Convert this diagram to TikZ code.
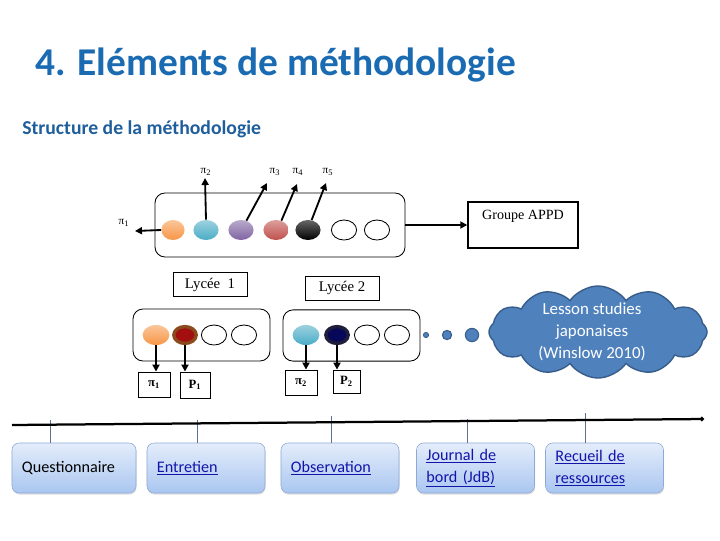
\documentclass[tikz,border=0pt]{standalone}
\usepackage{fontspec}
\setmainfont{Carlito}
\newfontfamily\tnr{Liberation Serif}
\usepackage{xcolor}
\definecolor{titlecolor}{HTML}{1A6BB2}
\definecolor{subcolor}{HTML}{1F5E9C}
\definecolor{linkcolor}{HTML}{1414AA}
\definecolor{cloudfill}{HTML}{4F81BD}
\definecolor{clouddraw}{HTML}{385D8A}
\definecolor{boxtop}{HTML}{E4EDFB}
\definecolor{boxbottom}{HTML}{A9C6F0}
\definecolor{boxdraw}{HTML}{8EA9D6}
\definecolor{tickcolor}{HTML}{5A7393}
\definecolor{ballorange}{HTML}{F79646}
\definecolor{ballblue}{HTML}{4BACC6}
\definecolor{ballpurple}{HTML}{8064A2}
\definecolor{ballred}{HTML}{C0504D}
\definecolor{ringbrown}{HTML}{8A4A1E}
\definecolor{ringred}{HTML}{A30F0F}
\definecolor{ringnavy}{HTML}{1E1E3A}
\definecolor{innernavy}{HTML}{08085A}
\usepackage{tikz}
\usetikzlibrary{arrows.meta, shapes.geometric, shapes.symbols, shadows, positioning}

\newcommand{\lien}[1]{\textcolor{linkcolor}{\underline{#1}}}

\tikzset{
  ball/.style={ellipse, inner sep=0pt, minimum width=0.63cm, minimum height=0.5cm},
  blanc/.style={ball, draw=black, fill=white, line width=0.6pt},
  conteneur/.style={draw, rounded corners=0.25cm, line width=0.6pt},
  fleche/.style={-{Triangle[length=5pt,width=5pt]}, line width=1.3pt},
  pilabel/.style={font=\tnr\fontsize{8}{9}\selectfont, inner sep=0pt},
  lbox/.style={draw, line width=0.6pt, inner sep=0pt, font=\tnr\fontsize{10.5}{12}\selectfont},
  pbox/.style={draw, line width=0.6pt, inner sep=0pt, font=\tnr\bfseries\fontsize{9}{10}\selectfont},
  etape/.style={rounded corners=0.18cm, draw=boxdraw, top color=boxtop, bottom color=boxbottom,
    minimum height=1.25cm, inner xsep=0.25cm, text width=2.45cm, align=left,
    font=\fontsize{11.5}{15.6}\selectfont, drop shadow={opacity=0.25, shadow xshift=0.4pt, shadow yshift=-1.2pt}},
  tick/.style={draw=tickcolor, line width=0.6pt}
}

\begin{document}
\begin{tikzpicture}[x=0.025cm, y=-0.025cm]
  \useasboundingbox (0,0) rectangle (720,540);
  % titres
  \node[anchor=base west, inner sep=0pt, text=titlecolor, font=\fontsize{28}{34}\selectfont\bfseries] (titre) at (35,75) {4. Eléments de méthodologie};
  \node[anchor=base west, inner sep=0pt, text=subcolor, font=\fontsize{14}{17}\selectfont\bfseries] (soustitre) at (22,134) {Structure de la méthodologie};

  % groupe
  \node[conteneur, minimum width=6.25cm, minimum height=1.6cm] (groupe) at (280,225) {};
  \node[ball, minimum width=0.58cm, top color=ballorange!55!white, bottom color=ballorange] (g1) at (173,230) {};
  \node[ball, top color=ballblue!55!white, bottom color=ballblue] (g2) at (206,230) {};
  \node[ball, top color=ballpurple!55!white, bottom color=ballpurple] (g3) at (241,230) {};
  \node[ball, top color=ballred!55!white, bottom color=ballred] (g4) at (276,230) {};
  \node[ball, top color=black!60, bottom color=black] (g5) at (308,230) {};
  \node[blanc] (g6) at (344,230) {};
  \node[blanc] (g7) at (377,230) {};
  \coordinate (t1) at (135,231);
  \coordinate (t2) at (205,178);
  \coordinate (t3) at (267,183);
  \coordinate (t4) at (297,184);
  \coordinate (t5) at (326,183);
  \draw[fleche] (g1.west) -- (t1);
  \draw[fleche] (g2.north) -- (t2);
  \draw[fleche] (g3.60) -- (t3);
  \draw[fleche] (g4.60) -- (t4);
  \draw[fleche] (g5.70) -- (t5);
  \node[pilabel] (pi1) at (124,223) {π\textsubscript{1}};
  \node[pilabel] (pi2) at (206,172) {π\textsubscript{2}};
  \node[pilabel] (pi3) at (275,172) {π\textsubscript{3}};
  \node[pilabel] (pi4) at (298,172) {π\textsubscript{4}};
  \node[pilabel] (pi5) at (328,172) {π\textsubscript{5}};
  \node[draw, line width=1pt, minimum width=2.75cm, minimum height=1.15cm,
    label={[font=\tnr\fontsize{10}{12}\selectfont, below=3pt]north:Groupe APPD}] (appd) at (523,225) {};
  \draw[fleche] (groupe.east) -- (appd.west);

  % lycees
  \node[lbox, minimum width=1.85cm, minimum height=0.62cm] (lycee1) at (210,284.5) {Lycée\ \ 1};
  \node[lbox, minimum width=1.85cm, minimum height=0.6cm] (lycee2) at (342,288) {Lycée 2};
  \node[conteneur, minimum width=3.425cm, minimum height=1.3cm] (cont1) at (201.5,335) {};
  \node[conteneur, minimum width=3.425cm, minimum height=1.28cm] (cont2) at (351.5,335.5) {};
  \node[ball, minimum width=0.67cm, top color=ballorange!55!white, bottom color=ballorange] (a1) at (156,335) {};
  \node[ball, minimum width=0.56cm, minimum height=0.42cm, fill=ringred, draw=ringbrown, line width=2.4pt] (a2) at (185,335) {};
  \node[blanc] (a3) at (214,335) {};
  \node[blanc] (a4) at (244,335) {};
  \node[ball, minimum width=0.67cm, top color=ballblue!55!white, bottom color=ballblue] (b1) at (306,335) {};
  \node[ball, minimum width=0.56cm, minimum height=0.42cm, fill=innernavy, draw=ringnavy, line width=2.4pt] (b2) at (337,335) {};
  \node[blanc] (b3) at (367,335) {};
  \node[blanc] (b4) at (397,335) {};
  \node[pbox, minimum width=0.8cm, minimum height=0.625cm] (pi1b) at (154,384.5) {π\textsubscript{1}};
  \node[pbox, minimum width=0.75cm, minimum height=0.65cm] (p1b) at (195,385) {P\textsubscript{1}};
  \node[pbox, minimum width=0.8cm, minimum height=0.625cm] (pi2b) at (301,382.5) {π\textsubscript{2}};
  \node[pbox, minimum width=0.675cm, minimum height=0.575cm] (p2b) at (346.5,381.5) {P\textsubscript{2}};
  \draw[fleche] (a1.south) -- (a1.south |- pi1b.north);
  \draw[fleche] (a2.south) -- (a2.south |- p1b.north);
  \draw[fleche] (b1.south) -- (b1.south |- pi2b.north);
  \draw[fleche] (b2.south) -- (b2.south |- p2b.north);

  % nuage
  \node[circle, inner sep=0pt, minimum size=0.13cm, fill=cloudfill, draw=clouddraw, line width=0.6pt] (d1) at (426,335) {};
  \node[circle, inner sep=0pt, minimum size=0.23cm, fill=cloudfill, draw=clouddraw, line width=0.8pt] (d2) at (447,335) {};
  \node[circle, inner sep=0pt, minimum size=0.33cm, fill=cloudfill, draw=clouddraw, line width=0.8pt] (d3) at (472,335) {};
  \node[cloud, cloud puffs=12, cloud puff arc=110, cloud ignores aspect, inner sep=0pt, draw=clouddraw, fill=cloudfill,
    line width=1pt, minimum width=5.45cm, minimum height=2.3cm,
    label={[text=white, align=center, xshift=-0.15cm, font=\fontsize{12}{15.6}\selectfont]center:{Lesson studies\\japonaises\\(Winslow 2010)}}] (nuage) at (598,332) {};

  % axe
  \node[etape, text width=2.6cm] (quest) at (74,468) {Questionnaire};
  \node[etape] (entretien) at (206,468) {\lien{Entretien}};
  \node[etape] (observation) at (340,468) {\lien{Observation}};
  \node[etape] (journal) at (475.5,468) {\lien{Journal de}\\\lien{bord (JdB)}};
  \node[etape] (recueil) at (604.5,468) {\lien{Recueil de}\\\lien{ressources}};
  \coordinate (tq) at (50,420);
  \coordinate (te) at (197,420);
  \coordinate (to) at (331,416);
  \coordinate (tj) at (467,419);
  \coordinate (tr) at (585,413);
  \draw[tick] (tq) -- (tq |- quest.north);
  \draw[tick] (te) -- (te |- entretien.north);
  \draw[tick] (to) -- (to |- observation.north);
  \draw[tick] (tj) -- (tj |- journal.north);
  \draw[tick] (tr) -- (tr |- recueil.north);
  \coordinate (axeA) at (12,425);
  \coordinate (axeB) at (704,419);
  \draw[line width=1.6pt, -{Circle[length=3pt]}] (axeA) -- (axeB);
\end{tikzpicture}
\end{document}
